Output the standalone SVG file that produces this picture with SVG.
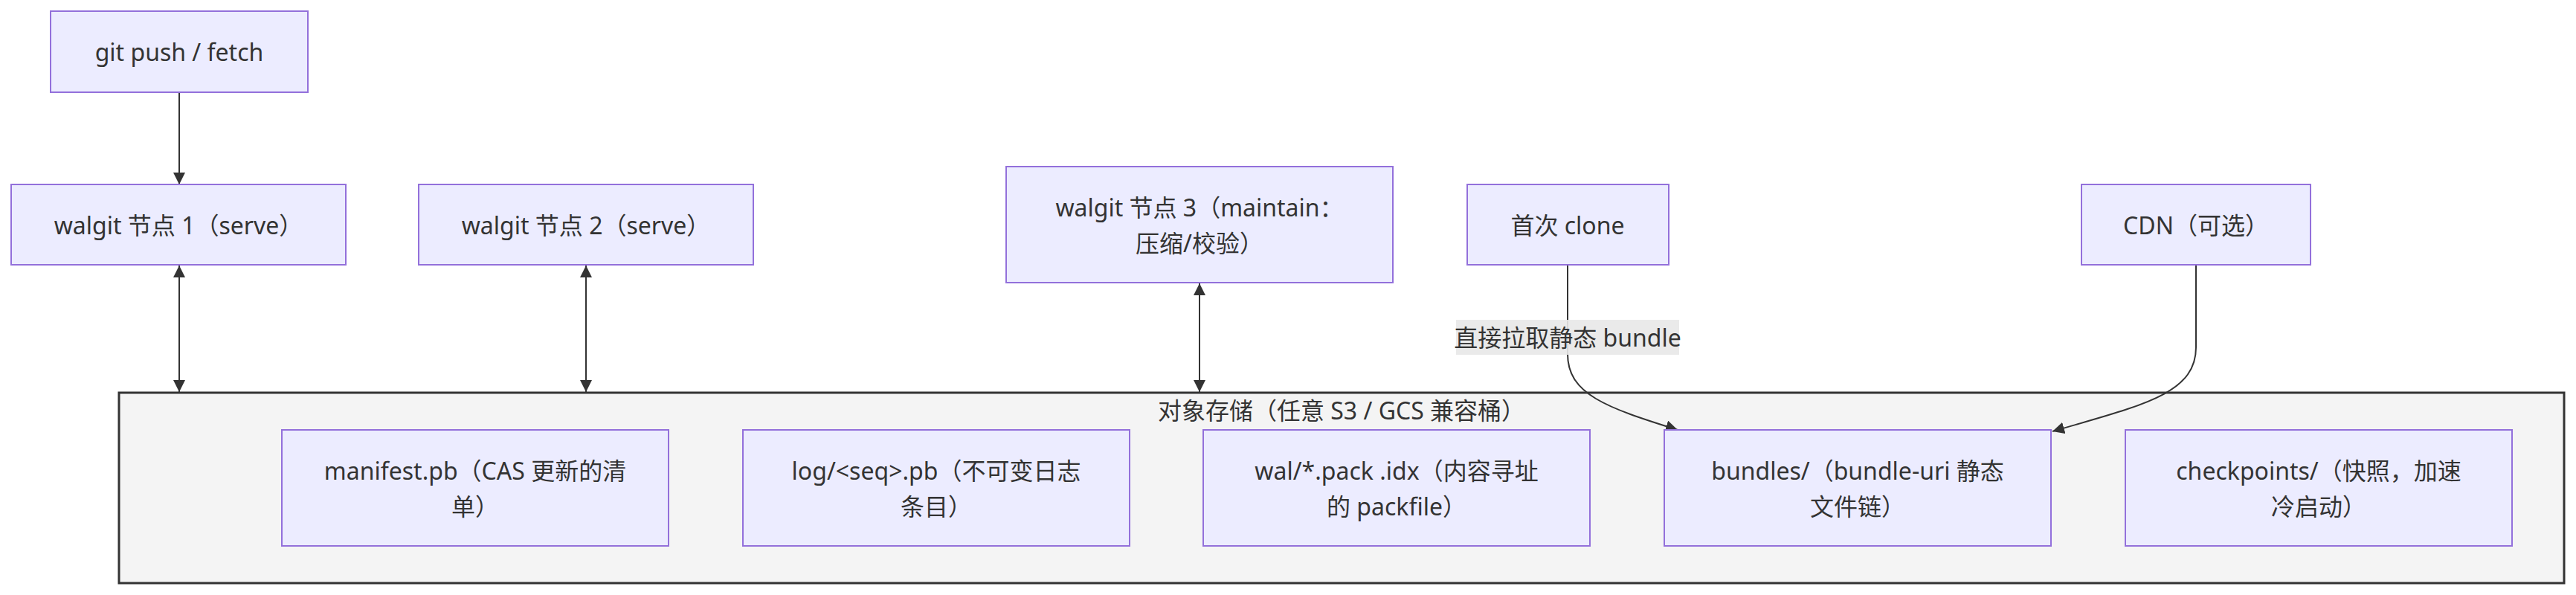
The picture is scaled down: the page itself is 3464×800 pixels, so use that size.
<svg xmlns="http://www.w3.org/2000/svg" width="3464" height="800" viewBox="0 0 3464 800">
<style>
text{font-family:"Noto Sans","Noto Sans CJK SC",sans-serif;font-size:32px;fill:#333;text-anchor:middle;dominant-baseline:central}
.node rect{fill:#ECECFF;stroke:#9370DB;stroke-width:2}
.cluster rect{fill:#f4f4f4;stroke:#333;stroke-width:3}
.edge{fill:none;stroke:#333;stroke-width:2}
.lbl{fill:#e8e8e8;opacity:0.9}
</style>
<defs>
<marker id="ae" viewBox="0 0 10 10" refX="10" refY="5" markerWidth="8" markerHeight="8" markerUnits="strokeWidth" orient="auto"><path d="M0,0L10,5L0,10z" fill="#333"/></marker>
<marker id="as" viewBox="0 0 10 10" refX="0" refY="5" markerWidth="8" markerHeight="8" markerUnits="strokeWidth" orient="auto"><path d="M10,0L0,5L10,10z" fill="#333"/></marker>
</defs>
<g id="cluster-store" class="cluster">
<rect x="160" y="528" width="3288" height="256"/>
<text x="1804" y="551">对象存储（任意 S3 / GCS 兼容桶）</text>
</g>
<g id="edges">
<path class="edge" d="M241,124L241,248" marker-end="url(#ae)"/>
<path class="edge" d="M241,357L241,527" marker-start="url(#as)" marker-end="url(#ae)"/>
<path class="edge" d="M788,357L788,527" marker-start="url(#as)" marker-end="url(#ae)"/>
<path class="edge" d="M1613,381L1613,527" marker-start="url(#as)" marker-end="url(#ae)"/>
<path class="edge" d="M2108,356L2108,476C2108,530 2160,548 2256,578" marker-end="url(#ae)"/>
<path class="edge" d="M2953,356L2953,467C2953,530 2880,545 2760,580" marker-end="url(#ae)"/>
<rect class="lbl" x="1958" y="430" width="300" height="47"/>
<text x="2108" y="453">直接拉取静态 bundle</text>
</g>
<g id="n-git" class="node"><rect x="68" y="15" width="346" height="109"/><text x="241" y="69">git push / fetch</text></g>
<g id="n-w1" class="node"><rect x="15" y="248" width="450" height="108"/><text x="240" y="302">walgit 节点 1（serve）</text></g>
<g id="n-w2" class="node"><rect x="563" y="248" width="450" height="108"/><text x="788" y="302">walgit 节点 2（serve）</text></g>
<g id="n-w3" class="node"><rect x="1353" y="224" width="520" height="156"/><text x="1613" y="278">walgit 节点 3（maintain：</text><text x="1613" y="326">压缩/校验）</text></g>
<g id="n-clone" class="node"><rect x="1973" y="248" width="271" height="108"/><text x="2108" y="302">首次 clone</text></g>
<g id="n-cdn" class="node"><rect x="2799" y="248" width="308" height="108"/><text x="2953" y="302">CDN（可选）</text></g>
<g id="n-manifest" class="node"><rect x="379" y="578" width="520" height="156"/><text x="639" y="632">manifest.pb（CAS 更新的清</text><text x="639" y="680">单）</text></g>
<g id="n-log" class="node"><rect x="999" y="578" width="520" height="156"/><text x="1259" y="632">log/&lt;seq&gt;.pb（不可变日志</text><text x="1259" y="680">条目）</text></g>
<g id="n-wal" class="node"><rect x="1618" y="578" width="520" height="156"/><text x="1878" y="632">wal/*.pack .idx（内容寻址</text><text x="1878" y="680">的 packfile）</text></g>
<g id="n-bundles" class="node"><rect x="2238" y="578" width="520" height="156"/><text x="2498" y="632">bundles/（bundle-uri 静态</text><text x="2498" y="680">文件链）</text></g>
<g id="n-ckpt" class="node"><rect x="2858" y="578" width="520" height="156"/><text x="3118" y="632">checkpoints/（快照，加速</text><text x="3118" y="680">冷启动）</text></g>
</svg>
